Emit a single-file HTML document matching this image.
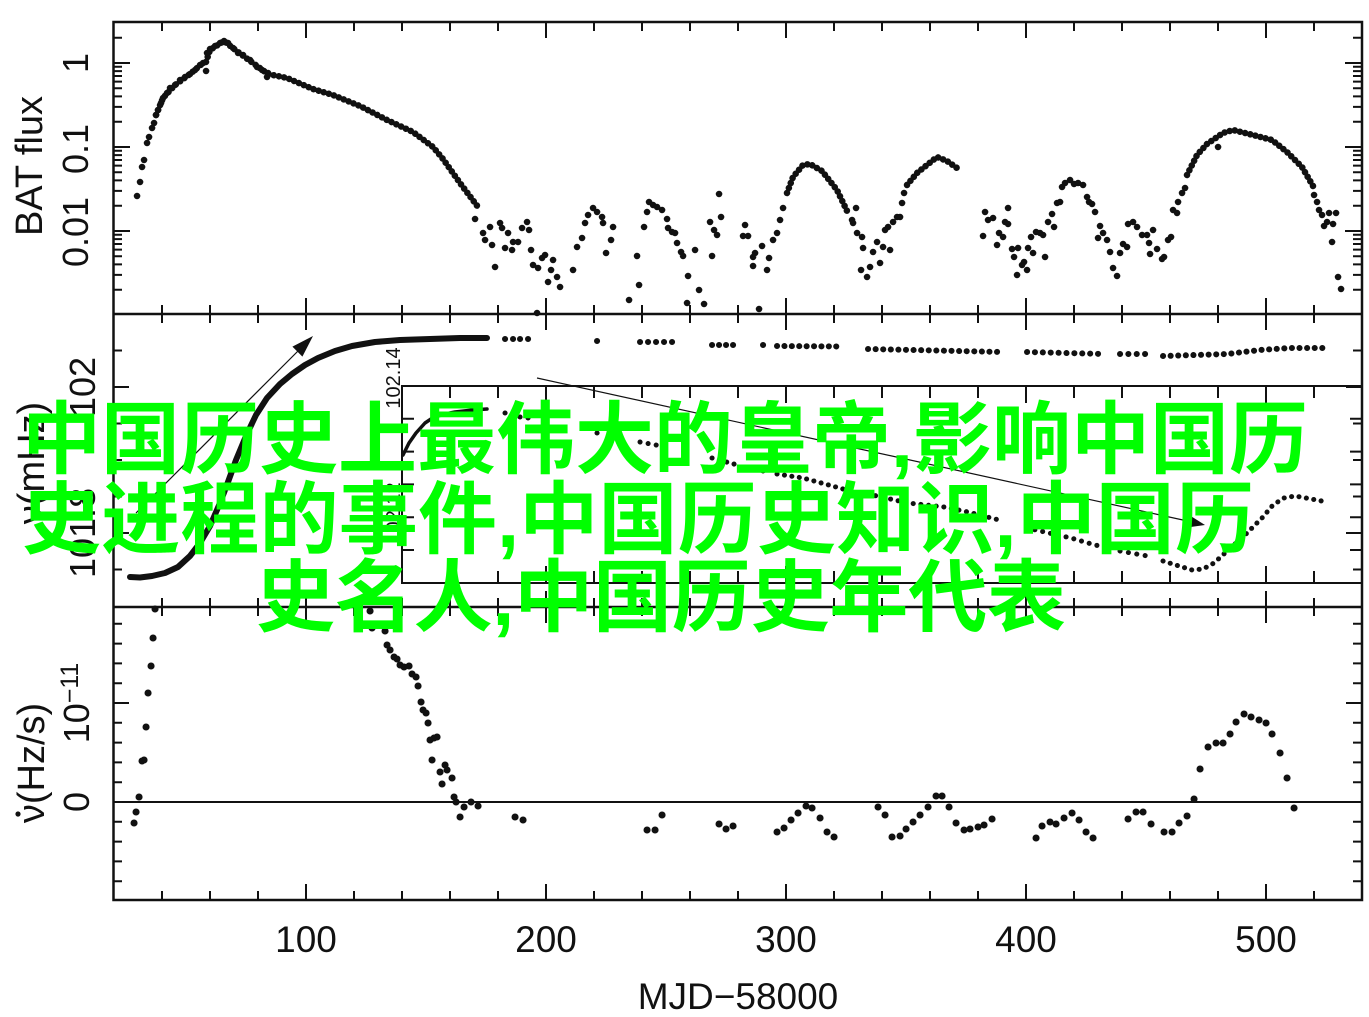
<!DOCTYPE html>
<html><head><meta charset="utf-8"><style>
html,body{margin:0;padding:0;background:#fff;}
svg{display:block;}
text{font-family:"Liberation Sans",Arial,sans-serif;fill:#111;}
.g{font-family:"Liberation Sans","Noto Sans CJK SC","WenQuanYi Zen Hei",sans-serif;font-weight:700;font-size:79px;fill:#00ff00;}
</style></head><body>
<svg width="1369" height="1017" viewBox="0 0 1369 1017" xmlns="http://www.w3.org/2000/svg">
<rect width="1369" height="1017" fill="#fff"/>
<g stroke="#111" fill="none">
<rect x="113.5" y="22" width="1248.5" height="878" stroke-width="2.5"/>
<line x1="113" y1="314" x2="1362" y2="314" stroke-width="2.5"/>
<line x1="113" y1="607" x2="1362" y2="607" stroke-width="2.5"/>
<line x1="113" y1="802" x2="1362" y2="802" stroke-width="2"/>
<g stroke-width="9" stroke-dasharray="2 46">
<line x1="161" y1="26.5" x2="1316" y2="26.5"/>
<line x1="161" y1="309.5" x2="1316" y2="309.5"/>
<line x1="161" y1="318.5" x2="1316" y2="318.5"/>
<line x1="161" y1="602.5" x2="1316" y2="602.5"/>
<line x1="161" y1="611.5" x2="1316" y2="611.5"/>
<line x1="161" y1="895.5" x2="1316" y2="895.5"/>
</g>
<g stroke-width="16" stroke-dasharray="2 238">
<line x1="305" y1="30" x2="1268" y2="30"/>
<line x1="305" y1="306" x2="1268" y2="306"/>
<line x1="305" y1="322" x2="1268" y2="322"/>
<line x1="305" y1="599" x2="1268" y2="599"/>
<line x1="305" y1="615" x2="1268" y2="615"/>
<line x1="305" y1="892" x2="1268" y2="892"/>
</g>
<path stroke-width="2" d="M113 63h17M113 147h17M113 231h17M1362 63h-17M1362 147h-17M1362 231h-17"/>
<path stroke-width="2" d="M113 37.7h9M113 121.7h9M113 106.9h9M113 96.4h9M113 88.3h9M113 81.6h9M113 76h9M113 71.1h9M113 66.8h9M113 205.7h9M113 190.9h9M113 180.4h9M113 172.3h9M113 165.6h9M113 160h9M113 155.1h9M113 150.8h9M113 289.7h9M113 274.9h9M113 264.4h9M113 256.3h9M113 249.6h9M113 244h9M113 239.1h9M113 234.8h9
M1362 37.7h-9M1362 121.7h-9M1362 106.9h-9M1362 96.4h-9M1362 88.3h-9M1362 81.6h-9M1362 76h-9M1362 71.1h-9M1362 66.8h-9M1362 205.7h-9M1362 190.9h-9M1362 180.4h-9M1362 172.3h-9M1362 165.6h-9M1362 160h-9M1362 155.1h-9M1362 150.8h-9M1362 289.7h-9M1362 274.9h-9M1362 264.4h-9M1362 256.3h-9M1362 249.6h-9M1362 244h-9M1362 239.1h-9M1362 234.8h-9"/>
<line x1="117.5" y1="349.5" x2="117.5" y2="572" stroke-width="9" stroke-dasharray="2 34.5"/>
<line x1="1357.5" y1="349.5" x2="1357.5" y2="572" stroke-width="9" stroke-dasharray="2 34.5"/>
<line x1="121" y1="386" x2="121" y2="535" stroke-width="16" stroke-dasharray="2 144"/>
<line x1="1354" y1="386" x2="1354" y2="535" stroke-width="16" stroke-dasharray="2 144"/>
<line x1="117.5" y1="622.8" x2="117.5" y2="884" stroke-width="9" stroke-dasharray="2 17.8"/>
<line x1="1357.5" y1="622.8" x2="1357.5" y2="884" stroke-width="9" stroke-dasharray="2 17.8"/>
<line x1="121" y1="702" x2="121" y2="804" stroke-width="16" stroke-dasharray="2 97"/>
<line x1="1354" y1="702" x2="1354" y2="804" stroke-width="16" stroke-dasharray="2 97"/>
<rect x="402" y="386" width="960" height="197" stroke-width="2"/>
<g stroke-width="12" stroke-dasharray="2 46">
<line x1="449" y1="392" x2="1316" y2="392"/>
<line x1="449" y1="577" x2="1316" y2="577"/>
</g>
<g stroke-width="17" stroke-dasharray="2 238">
<line x1="545" y1="394.5" x2="1268" y2="394.5"/>
<line x1="545" y1="574.5" x2="1268" y2="574.5"/>
</g>
<line x1="408" y1="417.8" x2="408" y2="552" stroke-width="12" stroke-dasharray="2 30.8"/>
<line x1="1356" y1="417.8" x2="1356" y2="552" stroke-width="12" stroke-dasharray="2 30.8"/>
</g>

<g font-size="36" text-anchor="middle">
<text transform="translate(88,63) rotate(-90)">1</text>
<text transform="translate(88,149) rotate(-90)">0.1</text>
<text transform="translate(88,232) rotate(-90)">0.01</text>
<text transform="translate(95,387) rotate(-90)">102</text>
<text transform="translate(95,533) rotate(-90)">101.8</text>
<text transform="translate(89,802) rotate(-90)">0</text>
<text transform="translate(89,703) rotate(-90)">10<tspan dy="-11" font-size="25">−11</tspan></text>
<text x="306" y="952" font-size="37">100</text>
<text x="546" y="952" font-size="37">200</text>
<text x="786" y="952" font-size="37">300</text>
<text x="1026" y="952" font-size="37">400</text>
<text x="1266" y="952" font-size="37">500</text>
<text x="738" y="1009" font-size="37">MJD−58000</text>
</g>
<g font-size="38" text-anchor="middle">
<text transform="translate(42,166) rotate(-90)">BAT flux</text>
<text transform="translate(44,463) rotate(-90)">ν(mHz)</text>
<text transform="translate(44,763) rotate(-90)">ν(Hz/s)</text>
</g>
<circle cx="18" cy="814" r="2.6" fill="#111"/>
<g font-size="20" text-anchor="middle">
<text transform="translate(400,378) rotate(-90)">102.14</text>
<text transform="translate(400,513) rotate(-90)">102.12</text>
</g>

<g stroke="#111" fill="none" stroke-linecap="round" stroke-linejoin="round" stroke-width="6.5">
<path stroke-dasharray="0.1 5.2" d="M156 115L163 98L175 85L190 74L203 63M206 62L210 50L224 41L238 52L257 66L268 74L287 78L313 89L333 95L360 106L387 120L413 132L433 147L443 159L460 183L478 207M787 193L793 177L803 165L810 164L822 171L837 190L848 213M907 185L917 173L937 157L947 161L957 168M1187 175L1197 155L1207 144L1223 133L1233 130L1253 135L1272 140L1287 152L1302 167L1313 186"/>
<path d="M137 196h.1M140 182h.1M142 167h.1M144 160h.1M147 143h.1M149 137h.1M152 128h.1M154 123h.1M156 115h.1M158 110h.1M161 103h.1M163 98h.1M167 93h.1M170 88h.1M175 85h.1M180 80h.1M185 77h.1M190 74h.1M195 70h.1M200 65h.1M203 63h.1M206 71h.1
M207 53h.1M210 49h.1M215 46h.1M220 43h.1M224 41h.1M228 43h.1M233 48h.1M238 53h.1M243 55h.1M250 60h.1M257 67h.1M262 70h.1M267 77h.1M268 73h.1M475 219h.1
M483 233h.1M485 240h.1M490 227h.1M492 245h.1M495 267h.1M500 223h.1M502 228h.1M505 248h.1M508 233h.1M512 250h.1M513 242h.1M518 242h.1M522 228h.1M527 222h.1M529 230h.1M531 250h.1M533 265h.1M538 268h.1M542 258h.1M545 255h.1M548 282h.1M551 270h.1M553 260h.1M557 277h.1M560 287h.1M537 313h.1
M573 270h.1M577 247h.1M582 238h.1M585 223h.1M588 215h.1M593 208h.1M597 212h.1M602 217h.1M603 223h.1M606 253h.1M611 240h.1M613 227h.1
M629 300h.1M637 256h.1M639 285h.1M644 227h.1M647 212h.1M649 202h.1M653 205h.1M657 207h.1M662 210h.1M667 219h.1M668 228h.1M672 232h.1M675 233h.1M677 243h.1M681 252h.1M683 256h.1M688 276h.1M687 303h.1M695 250h.1M699 290h.1M704 304h.1
M710 222h.1M714 230h.1M717 235h.1M719 194h.1M721 217h.1M712 256h.1
M743 236h.1M745 225h.1M748 236h.1M753 257h.1M755 253h.1M753 266h.1M762 246h.1M767 270h.1M769 258h.1M759 309h.1
M773 240h.1M777 233h.1M780 220h.1M783 208h.1
M852 220h.1M853 223h.1M856 208h.1M857 233h.1M862 237h.1M863 248h.1M861 270h.1M867 277h.1M870 267h.1M873 252h.1M877 242h.1M880 263h.1M883 247h.1M885 230h.1M888 227h.1M890 250h.1M893 222h.1M897 217h.1
M900 217h.1M902 203h.1M904 193h.1
M983 236h.1M985 212h.1M988 220h.1M993 218h.1M997 245h.1M999 233h.1M1003 237h.1M1005 222h.1M1008 208h.1M1008 224h.1M1012 249h.1M1014 257h.1M1017 275h.1M1018 248h.1M1022 265h.1M1024 262h.1M1027 270h.1M1028 248h.1M1031 237h.1M1033 253h.1M1036 232h.1M1040 233h.1M1043 235h.1M1045 257h.1M1048 222h.1M1052 214h.1M1054 227h.1M1057 203h.1M1060 202h.1M1062 187h.1M1065 183h.1M1070 180h.1M1074 184h.1M1078 183h.1M1083 185h.1M1087 197h.1M1089 202h.1M1092 204h.1M1095 212h.1M1100 226h.1M1098 238h.1M1103 233h.1M1107 240h.1M1110 252h.1M1113 268h.1M1117 276h.1M1120 253h.1M1123 244h.1M1127 247h.1M1128 224h.1M1133 222h.1M1137 227h.1M1142 235h.1M1147 235h.1M1149 243h.1M1150 254h.1M1153 230h.1M1157 249h.1M1162 259h.1M1164 257h.1M1168 240h.1M1171 237h.1
M1173 210h.1M1177 213h.1M1178 202h.1M1182 193h.1M1185 188h.1M1218 147h.1
M1314 195h.1M1317 202h.1M1319 210h.1M1322 215h.1M1324 226h.1M1327 222h.1M1329 213h.1M1333 224h.1M1336 213h.1M1332 242h.1M1338 277h.1M1341 289h.1"/>
</g>

<g stroke="#111" fill="none" stroke-linecap="round" stroke-linejoin="round">
<polyline stroke-width="6" points="130,577 140,577.5 152,576 165,573 178,567 190,556 200,543 210,526 220,503 228,482 236,460 246,436 256,415 267,398 280,384 292,374 305,365 318,358 335,351 352,346 375,342 400,340 430,339 460,338 487,338"/>
<g stroke-width="6">
<path d="M505 339h.1M513 339h.1M520 339h.1M528 339h.1M597 341h.1M763 345h.1"/>
<path stroke-dasharray="0.1 7.9" d="M640 342L672.2 342"/>
<path stroke-dasharray="0.1 6.9" d="M712 345L740 345"/>
<path stroke-dasharray="0.1 7.3" d="M777 346L843 346.5"/>
<path stroke-dasharray="0.1 7.49" d="M868 349L1003 352"/>
<path stroke-dasharray="0.1 7.79" d="M1027 352L1105 354"/>
<path stroke-dasharray="0.1 8.24" d="M1120 354L1153 354"/>
<path stroke-dasharray="0.1 7.5" d="M1163 356L1227 354L1260 350L1290 348L1327 348"/>
</g>
<polyline stroke-width="3.5" points="403,455 409,443 416,433 425,423 434,417 445,414 455,412 473,410 487,409"/>
<g stroke-width="5">
<path d="M505 413h.1M513 416h.1M520 417h.1M528 418h.1M597 433h.1M763 471h.1"/>
<path stroke-dasharray="0.1 8.1" d="M640 442L672 448"/>
<path stroke-dasharray="0.1 7.5" d="M712 458L741 466"/>
<path stroke-dasharray="0.1 7.4" d="M777 474L803 478L836 487L843 489"/>
<path stroke-dasharray="0.1 7.6" d="M868 494L908 503L944 507L968 512L1003 521"/>
<path stroke-dasharray="0.1 7.9" d="M1027 528L1071 538L1095 545L1105 547"/>
<path stroke-dasharray="0.1 8.4" d="M1120 551L1153 557"/>
<path stroke-dasharray="0.1 7.4" d="M1163 561L1192 570L1203 569L1214 563L1225 553L1245 535L1262 518L1273 505L1284 498L1295 496L1306 498L1327 502"/>
</g>
</g>
<line x1="136" y1="513" x2="300" y2="349" stroke="#111" stroke-width="1.2"/>
<polygon points="313,336 302.4,356.6 292.4,346.6" fill="#111"/>
<line x1="537" y1="378" x2="1192" y2="522" stroke="#111" stroke-width="1.2"/>
<polygon points="1205,525 1187,527.5 1189.7,515.4" fill="#111"/>

<path stroke="#111" fill="none" stroke-linecap="round" stroke-width="7" d="M134 823h.1M136 812h.1M139 797h.1M142 761h.1M144 760h.1M146 727h.1M148 693h.1M151 666h.1M153 638h.1M155 609h.1
M370 611h.1M372 628h.1M385 631h.1M387 645h.1M390 650h.1M394 657h.1M397 659h.1M400 665h.1M404 667h.1M409 666h.1M412 674h.1M416 677h.1M418 686h.1M421 702h.1M423 710h.1M426 713h.1M428 723h.1M430 740h.1M434 738h.1M437 737h.1M432 760h.1M440 772h.1M445 765h.1M447 770h.1M452 778h.1M442 784h.1M454 797h.1M456 802h.1M460 817h.1M464 807h.1M471 802h.1M478 806h.1M515 817h.1M523 820h.1
M647 830h.1M655 830h.1M662 815h.1M719 824h.1M726 829h.1M733 826h.1
M777 832h.1M784 828h.1M791 820h.1M798 813h.1M806 806h.1M812 808h.1M820 818h.1M827 832h.1M834 837h.1
M878 807h.1M885 815h.1M892 837h.1M900 836h.1M906 829h.1M913 822h.1M920 815h.1M928 807h.1M936 796h.1M942 796h.1M949 807h.1M956 823h.1M964 830h.1M970 829h.1M978 827h.1M984 825h.1M992 819h.1
M1036 838h.1M1042 826h.1M1050 822h.1M1056 824h.1M1064 818h.1M1072 813h.1M1079 820h.1M1086 832h.1M1093 838h.1
M1128 819h.1M1136 812h.1M1143 812h.1M1151 824h.1M1164 832h.1M1172 832h.1M1179 823h.1M1187 816h.1M1194 799h.1
M1200 769h.1M1208 747h.1M1216 743h.1M1223 743h.1M1230 734h.1M1236 722h.1M1244 714h.1M1251 717h.1M1259 720h.1M1266 723h.1M1272 734h.1M1280 753h.1M1287 778h.1M1294 808h.1"/>

<text class="g" x="22" y="467" textLength="1286" lengthAdjust="spacing">中国历史上最伟大的皇帝,影响中国历</text>
<text class="g" x="22" y="547" textLength="1232" lengthAdjust="spacing">史进程的事件,中国历史知识,中国历</text>
<text class="g" x="256" y="625" textLength="810" lengthAdjust="spacing">史名人,中国历史年代表</text>
</svg>
</body></html>
